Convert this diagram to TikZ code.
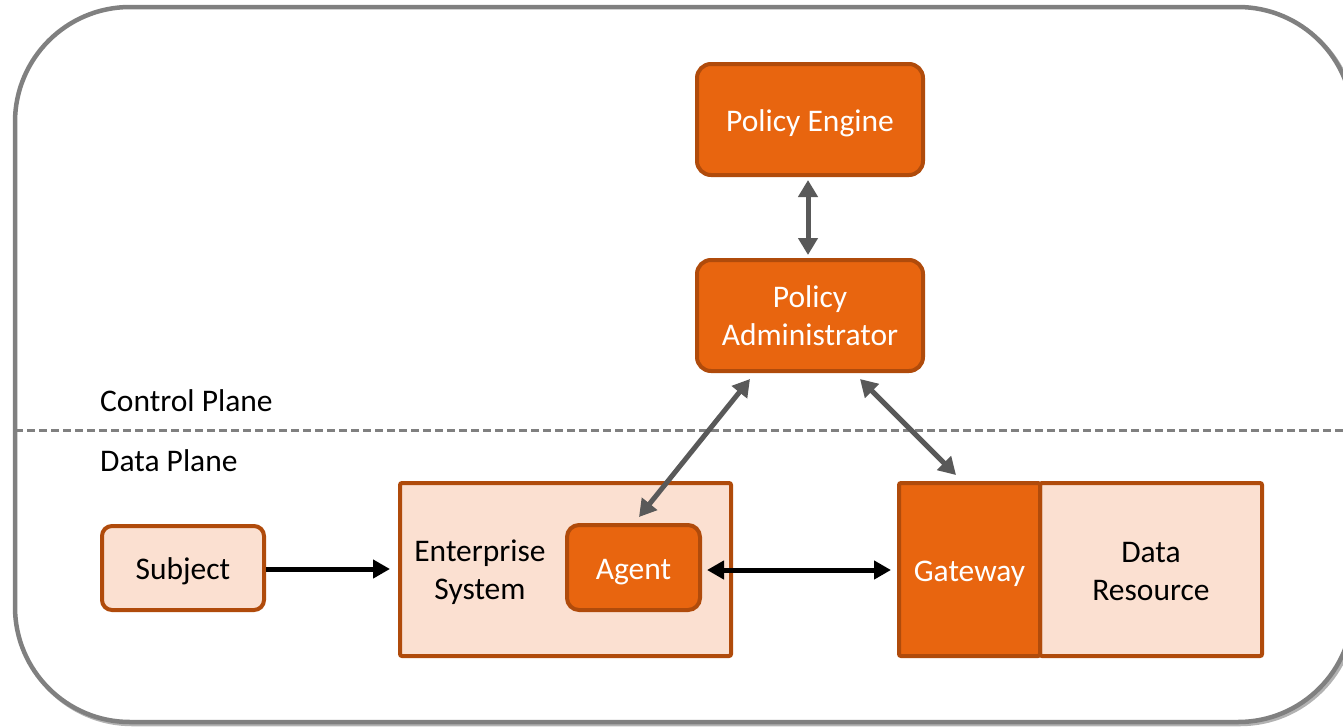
\documentclass[tikz,border=0pt]{standalone}
\usepackage{fontspec}
\setmainfont{Carlito}
\usetikzlibrary{arrows.meta,calc}
\definecolor{orangefill}{HTML}{E8650F}
\definecolor{orangeedge}{HTML}{B04B0B}
\definecolor{peach}{HTML}{FBE0D1}
\definecolor{framegray}{HTML}{808080}
\definecolor{linkgray}{HTML}{595959}
\tikzset{
  darkbox/.style={rectangle, draw=orangeedge, fill=orangefill, line width=4pt,
    text=white, align=center, inner sep=0pt},
  lightbox/.style={rectangle, draw=orangeedge, fill=peach, line width=4pt,
    text=black, align=center, inner sep=0pt},
  oneline/.style={text height=23pt, text depth=0pt},
  graylink/.style={linkgray, line width=5pt,
    {Triangle[length=17pt,width=19pt]}-{Triangle[length=17pt,width=19pt]}},
  blacklink/.style={black, line width=5pt},
  blackhead/.style={-{Triangle[length=17pt,width=18pt]}},
  blackboth/.style={{Triangle[length=17pt,width=18pt]}-{Triangle[length=17pt,width=18pt]}},
  planelabel/.style={anchor=base west, inner sep=0pt, text=black},
}
\begin{document}
\begin{tikzpicture}[x=1pt, y=-1pt, font=\fontsize{31.5}{38}\selectfont]
\useasboundingbox (0,0) rectangle (1343,726);

% outer frame over a faint shadow; the white fill hides the shadow inside
\draw[black!30, line width=4.5pt, rounded corners=115pt] (17,9) rectangle (1355,724);
\draw[framegray, fill=white, line width=4.5pt, rounded corners=115pt] (15,7) rectangle (1353,722);

% plane separator
\coordinate (sepL) at (15,430);
\coordinate (sepR) at (1353,430);
\draw[framegray, line width=3pt, dash pattern=on 8pt off 4pt] (sepL) -- (sepR);
\node[planelabel] (cplane) at (100,411) {Control Plane};
\node[planelabel] (dplane) at (100,471) {Data Plane};

% control plane
\node[darkbox, oneline, rounded corners=14pt, minimum width=226pt, minimum height=111pt] (pe) at (810,119.5) {Policy Engine};
\node[darkbox, rounded corners=14pt, minimum width=226pt, minimum height=111pt] (pa) at (810,315.5) {Policy\\Administrator};

% data plane
\node[lightbox, oneline, rounded corners=10pt, minimum width=162pt, minimum height=84pt] (sub) at (183,568) {Subject};
\node[lightbox, rounded corners=2pt, minimum width=331pt, minimum height=173pt] (ent) at (565.5,569.5) {};
\node[inner sep=0pt, align=center] (entlabel) at (480,572) {Enterprise\\System};
\node[darkbox, oneline, rounded corners=12pt, minimum width=133pt, minimum height=85pt] (agent) at (633.5,567.5) {Agent};
\node[lightbox, rounded corners=2pt, minimum width=222pt, minimum height=173pt] (data) at (1151,569.5) {};
\node[inner sep=0pt, align=center] (datalabel) at (1151,571) {Data\\Resource};
\node[darkbox, oneline, rounded corners=2pt, minimum width=141pt, minimum height=173pt] (gw) at (969.5,569.5) {Gateway};

% connector end points
\coordinate (subOut) at ([yshift=-1pt]sub.east);
\coordinate (entIn) at ([xshift=-8pt]ent.west);
\coordinate (agentOut) at ([xshift=5pt,yshift=-2.5pt]agent.east);
\coordinate (gwIn) at ([xshift=-6pt]gw.west);

% connectors
\draw[graylink] ([xshift=-2pt,yshift=-3pt]pe.south) -- ([xshift=-2pt,yshift=3pt]pa.north);
\draw[graylink] ([xshift=55pt,yshift=-6pt]pa.south west) -- ([xshift=74pt,yshift=6pt]agent.north west);
\draw[graylink] ([xshift=-65pt,yshift=-6pt]pa.south east) -- ([xshift=59pt,yshift=6pt]gw.north west);
\draw[blacklink, blackhead] (subOut) -- (entIn |- subOut);
\draw[blacklink, blackboth] (agentOut) -- (gwIn |- agentOut);
\end{tikzpicture}
\end{document}
